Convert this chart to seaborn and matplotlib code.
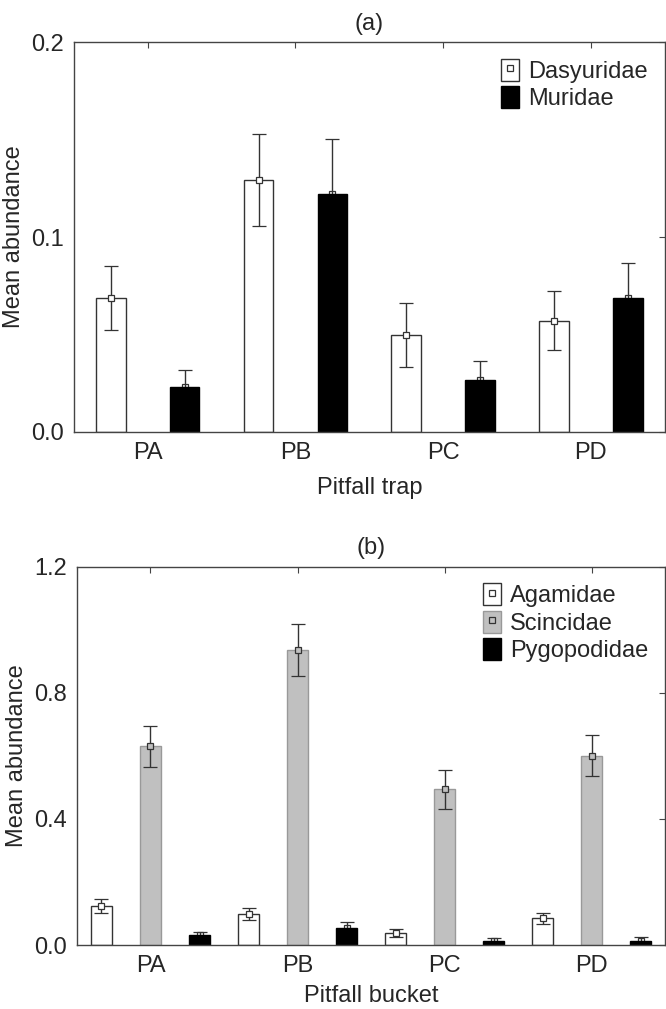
import pandas as pd
import numpy as np
import seaborn as sns
import matplotlib.pyplot as plt
from matplotlib.patches import Patch
from matplotlib.lines import Line2D

# panel (a): mammals in pitfall traps
traps = ["PA", "PB", "PC", "PD"]
mammals = ["Dasyuridae", "Muridae"]
dasyuridae_mean = [0.0687, 0.1293, 0.0497, 0.0570]
dasyuridae_err = [0.0165, 0.0235, 0.0166, 0.0152]
muridae_mean = [0.0228, 0.1219, 0.0267, 0.0687]
muridae_err = [0.0092, 0.0286, 0.0098, 0.0178]

# panel (b): reptiles in pitfall buckets
buckets = ["PA", "PB", "PC", "PD"]
reptiles = ["Agamidae", "Scincidae", "Pygopodidae"]
agamidae_mean = [0.124, 0.099, 0.038, 0.085]
agamidae_err = [0.023, 0.020, 0.012, 0.018]
scincidae_mean = [0.630, 0.936, 0.494, 0.600]
scincidae_err = [0.066, 0.082, 0.062, 0.065]
pygopodidae_mean = [0.032, 0.053, 0.014, 0.014]
pygopodidae_err = [0.009, 0.019, 0.007, 0.010]

FS = 17


def long_df(cats, groups, means):
    rows = []
    for g, vals in zip(groups, means):
        for c, v in zip(cats, vals):
            rows.append({"cat": c, "group": g, "mean": v})
    return pd.DataFrame(rows)


def draw_panel(ax, cats, groups, means, errs, fills, edges, gap, title, xlabel, ylim, yticks, xpad=10):
    df = long_df(cats, groups, means)
    sns.barplot(data=df, x="cat", y="mean", hue="group", order=cats, hue_order=groups,
                palette=dict(zip(groups, fills)), width=1.0, gap=gap, legend=False,
                linewidth=1.0, edgecolor="#333333", saturation=1, ax=ax, zorder=2)
    bars = [p for p in ax.patches][:len(cats) * len(groups)]
    for i, g in enumerate(groups):
        dark = fills[i] == "black"
        for j in range(len(cats)):
            p = bars[i * len(cats) + j]
            p.set_edgecolor(edges[i])
            x = p.get_x() + p.get_width() / 2
            # on black bars the lower half of the error bar sits behind the bar
            ax.errorbar(x, means[i][j], yerr=errs[i][j], fmt="s", ms=5,
                        mfc="none" if dark else fills[i], mec="#333333", mew=0.9,
                        ecolor="#333333", elinewidth=1.0, capsize=5, capthick=1.0,
                        zorder=1.5 if dark else 5)
    ax.set_xlim(-0.5, 3.5)
    ax.set_ylim(*ylim)
    ax.set_yticks(yticks)
    ax.set_yticklabels([f"{t:.1f}" for t in yticks])
    ax.set_title(title, fontsize=FS, pad=9)
    ax.set_xlabel(xlabel, fontsize=FS, labelpad=xpad)
    ax.set_ylabel("Mean abundance", fontsize=FS, labelpad=5)
    ax.tick_params(direction="in", top=True, right=True, length=4, width=0.8, labelsize=FS, pad=7, color="#444444")
    for s in ax.spines.values():
        s.set_color("#444444")
        s.set_linewidth(1.0)

    handles = []
    for i, g in enumerate(groups):
        patch = Patch(facecolor=fills[i], edgecolor=edges[i] if fills[i] != "black" else "black", linewidth=1.0)
        if fills[i] != "black":
            mk = Line2D([], [], marker="s", ms=5, mfc=fills[i], mec="#333333", mew=0.9, ls="none")
            handles.append((patch, mk))
        else:
            handles.append(patch)
    ax.legend(handles, groups, loc="upper right", bbox_to_anchor=(1.0, 1.0), frameon=False, fontsize=FS,
              handlelength=0.75, handleheight=1.05, handletextpad=0.4, labelspacing=0.15, borderaxespad=0.3)


sns.set_style("white")
plt.rcParams["font.family"] = ["Liberation Sans", "DejaVu Sans"]

fig = plt.figure(figsize=(6.66, 10.09), dpi=100)
ax1 = fig.add_axes([0.111, 0.572, 0.887, 0.386])
ax2 = fig.add_axes([0.1156, 0.0634, 0.883, 0.375])

draw_panel(ax1, traps, mammals, [dasyuridae_mean, muridae_mean], [dasyuridae_err, muridae_err],
           ["white", "black"], ["#333333", "black"], 0.6, "(a)", "Pitfall trap", (0, 0.2), [0.0, 0.1, 0.2])
draw_panel(ax2, buckets, reptiles, [agamidae_mean, scincidae_mean, pygopodidae_mean],
           [agamidae_err, scincidae_err, pygopodidae_err],
           ["white", "#c0c0c0", "black"], ["#333333", "#999999", "black"], 0.58, "(b)", "Pitfall bucket",
           (0, 1.2), [0.0, 0.4, 0.8, 1.2], xpad=6)

fig.savefig("out.png", dpi=100)
